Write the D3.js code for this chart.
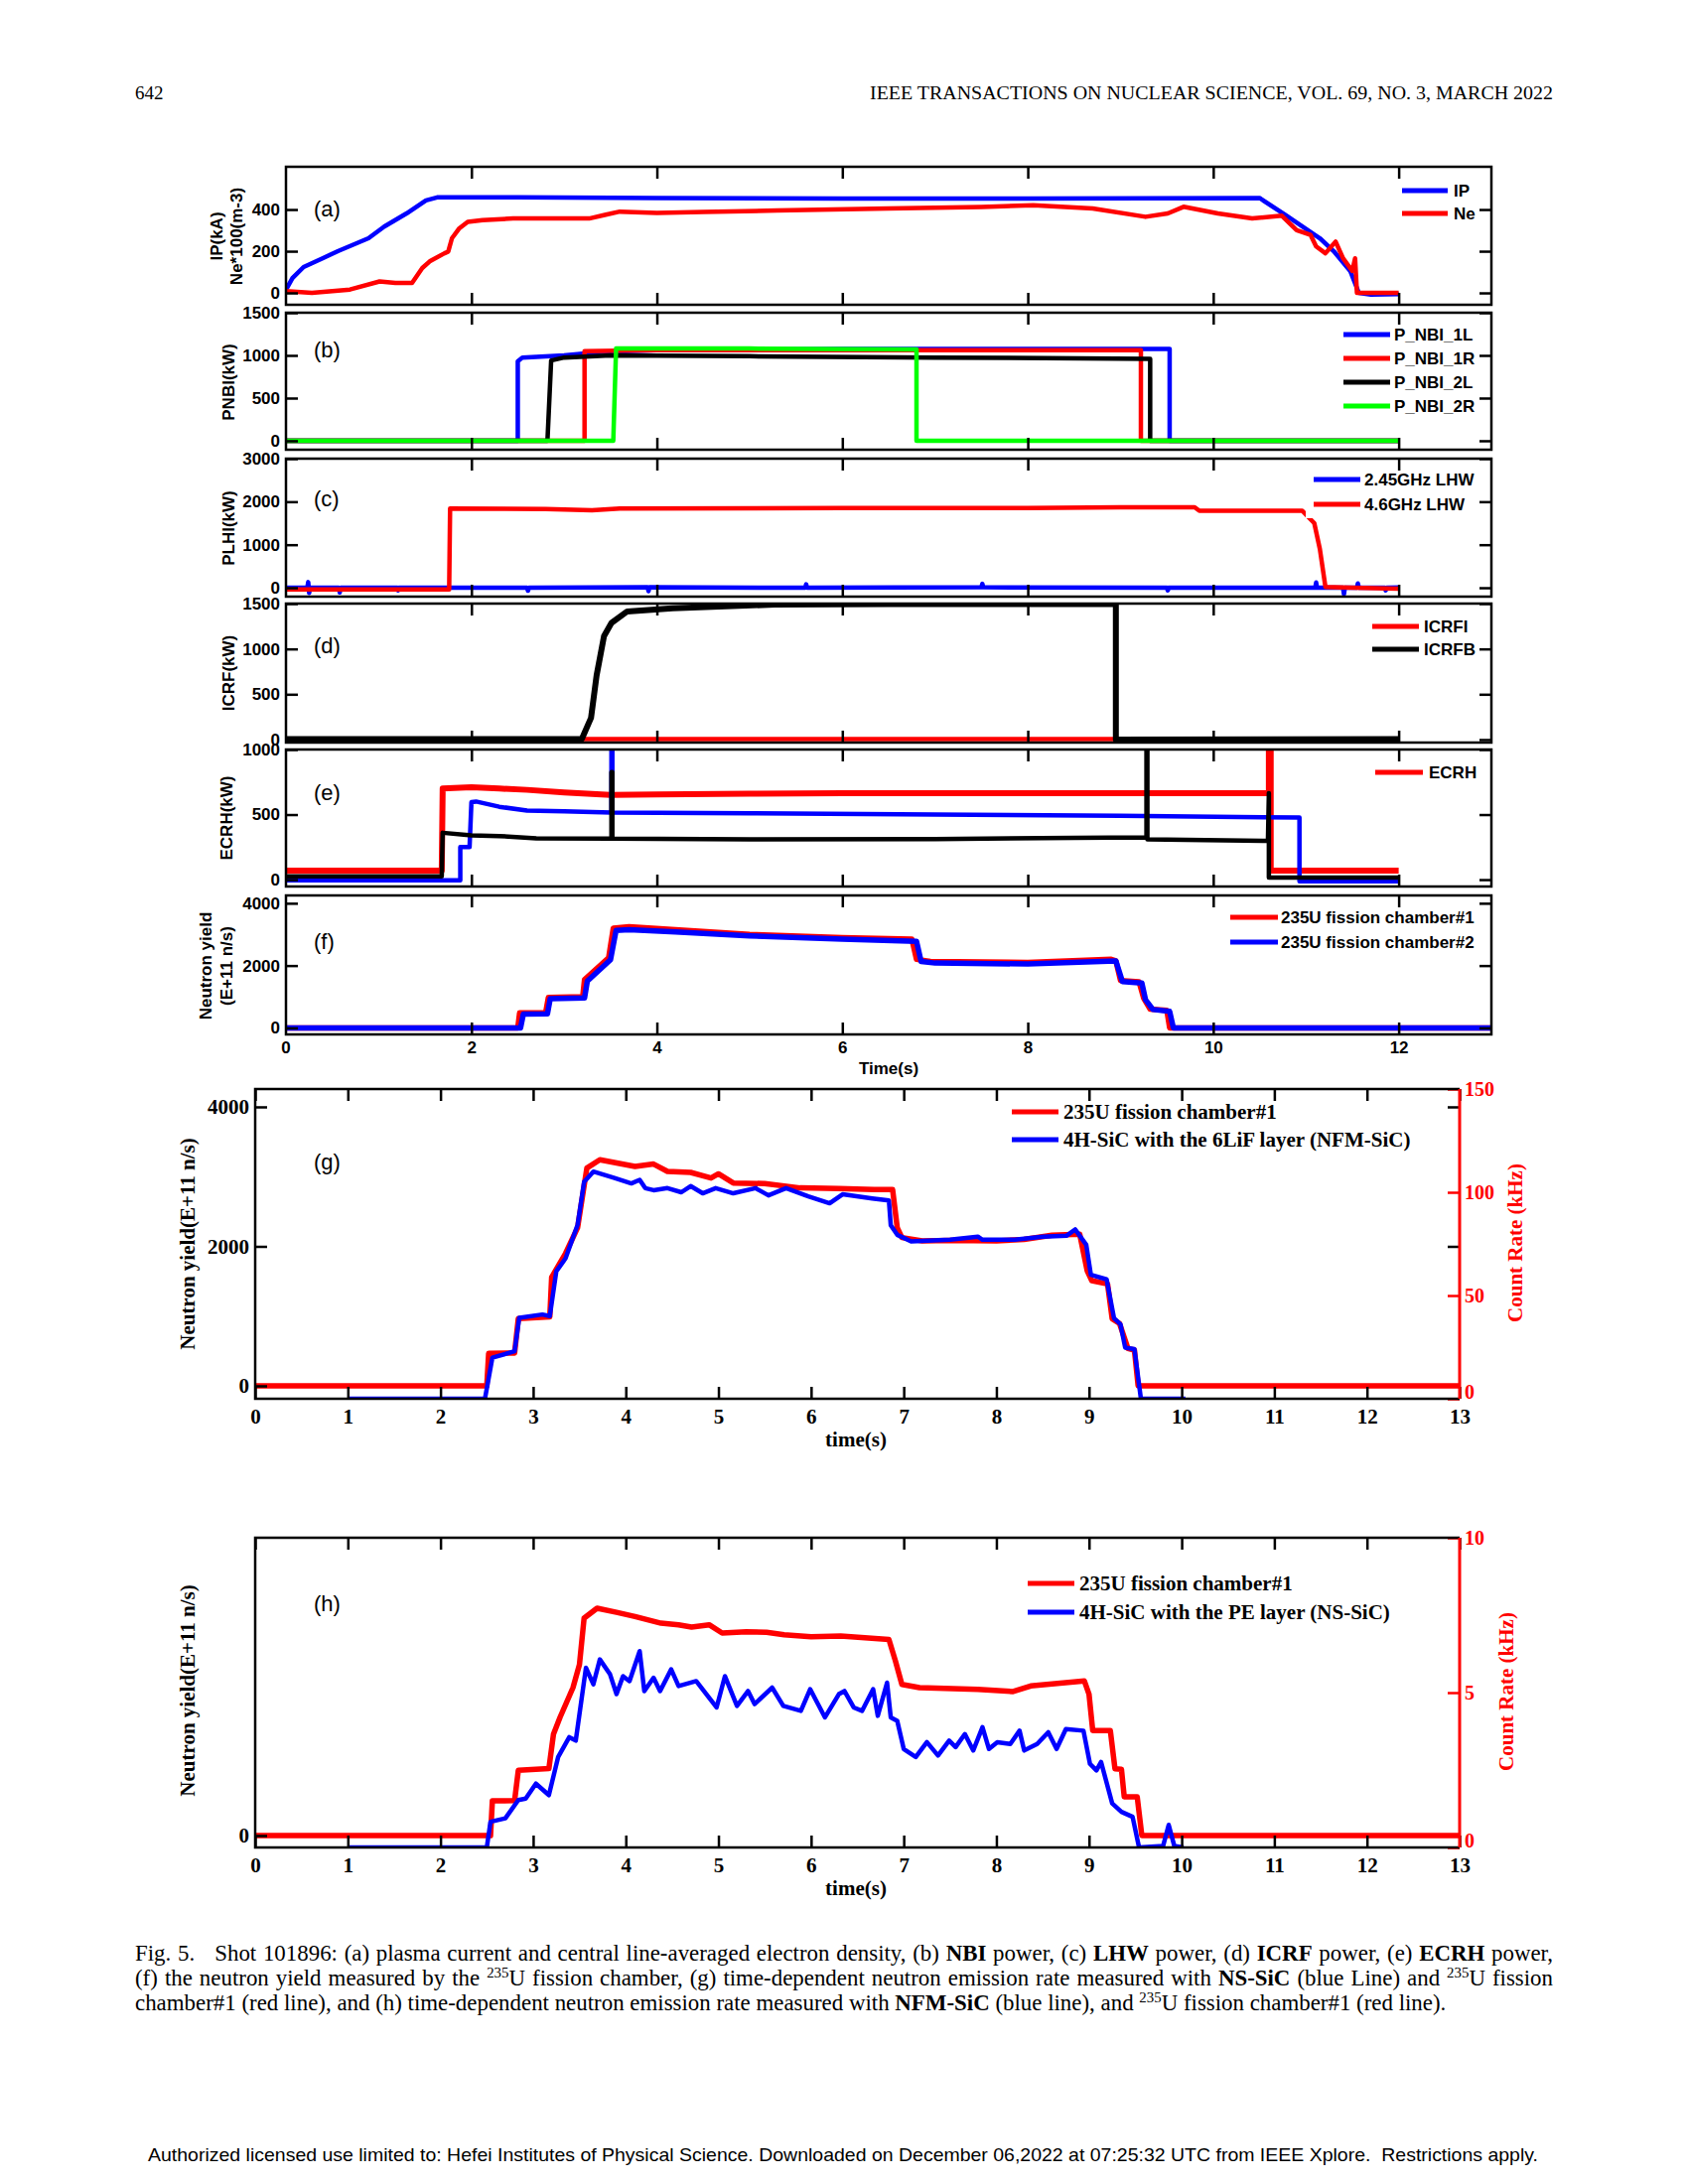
<!DOCTYPE html>
<html><head><meta charset="utf-8">
<script src="https://cdn.jsdelivr.net/npm/d3@7"></script>
<style>body{margin:0;background:#fff}</style>
</head><body>
<svg id="c" width="1700" height="2200" xmlns="http://www.w3.org/2000/svg"></svg>
<script>
// ---------------- DATA (time s, value) ----------------
const ipData = [[0,15],[0.07,71],[0.19,124],[0.4,167],[0.56,200],[0.89,262],[1.06,318],[1.3,381],[1.51,444],[1.63,458],[2.5,458],[4,455],[6,453],[8,453],[10.5,455],[10.78,373],[11.15,262],[11.3,200],[11.48,103],[11.57,0],[11.7,-8],[12,-6]];
const neData = [[0,8],[0.28,0],[0.69,16],[1.01,55],[1.18,48],[1.36,48],[1.47,119],[1.55,151],[1.71,190],[1.75,198],[1.79,262],[1.87,310],[1.96,341],[2.12,349],[2.45,357],[3.27,357],[3.45,375],[3.6,390],[4,384],[4.5,388],[5.3,395],[6.5,405],[7.5,412],[8.06,421],[8.7,405],[9.27,365],[9.51,381],[9.68,413],[10.05,381],[10.42,357],[10.74,370],[10.9,301],[11.05,278],[11.11,223],[11.21,190],[11.32,246],[11.4,166],[11.5,105],[11.53,166],[11.55,0],[12,0]];

const nbi1L = [[0,0],[2.5,0],[2.5,930],[2.55,975],[3.0,1000],[3.4,1040],[4,1060],[6,1075],[8,1075],[9.53,1075],[9.53,0],[12,0]];
const nbi1R = [[0,0],[3.22,0],[3.22,1050],[4,1060],[6,1062],[9.22,1062],[9.22,0],[12,0]];
const nbi2L = [[0,0],[2.82,0],[2.86,940],[3.0,975],[3.5,1000],[5,990],[7,975],[9.32,960],[9.32,0],[12,0]];
const nbi2R = [[0,0],[3.53,0],[3.56,1080],[5,1080],[6.8,1070],[6.8,0],[12,0]];

const lhw245 = [[0,0],[0.23,0],[0.24,130],[0.25,-120],[0.26,0],[0.57,0],[0.58,-110],[0.59,0],[1.2,0],[1.21,-60],[1.22,0],[1.76,0],[2.6,0],[2.61,-70],[2.62,0],[3.9,10],[3.91,-80],[3.92,10],[5.6,0],[5.61,80],[5.62,0],[7.5,10],[7.51,90],[7.52,10],[9.5,0],[9.51,-60],[9.52,0],[11.1,0],[11.11,120],[11.12,0],[11.4,0],[11.41,-150],[11.42,0],[11.55,0],[11.56,100],[11.57,0],[11.85,0],[11.86,-60],[11.87,0],[12,5]];
const lhw46 = [[0,-40],[1.76,-40],[1.77,1840],[2.8,1830],[3.3,1800],[3.6,1840],[6,1850],[8,1850],[9,1870],[9.8,1870],[9.85,1790],[10.96,1790],[11.09,1500],[11.15,900],[11.21,20],[11.5,0],[12,-20]];

const icrfi = [[0,5],[12,5]];
const icrfb = [[0,5],[3.19,5],[3.29,239],[3.35,707],[3.43,1141],[3.51,1286],[3.68,1413],[4.17,1449],[5.27,1489],[6.5,1495],[8.95,1495],[8.95,0],[12,5]];

const ecrhRed = [[0,70],[1.68,70],[1.69,700],[2,710],[2.3,700],[2.6,690],[3,670],[3.5,650],[4,655],[5,660],[6,665],[8,665],[10.6,665],[10.6,1100],[10.62,1100],[10.62,70],[12,70]];
const ecrhBlue = [[0,-5],[1.88,-5],[1.88,250],[1.98,250],[2.0,595],[2.05,600],[2.3,560],[2.6,530],[3.0,525],[3.51,515],[3.51,1100],[3.52,1100],[3.52,515],[5,510],[7,500],[9,490],[10.93,477],[10.93,-13],[12,-13]];
const ecrhBlack = [[0,25],[1.68,25],[1.69,360],[2.0,340],[2.3,335],[2.7,318],[3.51,315],[3.51,826],[3.52,826],[3.52,315],[5,310],[7,312],[8.5,320],[9.28,325],[9.28,1100],[9.29,1100],[9.29,310],[10.59,298],[10.6,665],[10.6,15],[12,15]];

const fc1 = [[0,0],[2.5,0],[2.52,480],[2.8,480],[2.83,980],[3.2,1000],[3.22,1550],[3.48,2250],[3.53,3200],[3.7,3250],[4.2,3150],[5,3000],[6,2900],[6.75,2850],[6.8,2200],[6.95,2130],[8,2100],[8.9,2200],[8.95,2150],[9.0,1520],[9.2,1480],[9.25,950],[9.32,600],[9.5,560],[9.53,0],[13,0]];
const fc2 = [[0,0],[2.53,0],[2.56,440],[2.82,450],[2.85,940],[3.22,960],[3.25,1500],[3.5,2190],[3.56,3130],[3.7,3150],[4.2,3080],[5,2950],[6,2850],[6.8,2780],[6.85,2130],[7,2080],[8,2050],[8.95,2150],[9.02,1490],[9.23,1440],[9.27,900],[9.35,590],[9.53,530],[9.57,0],[13,0]];

const gFc1 = [[0,0],[2.5,0],[2.52,465],[2.8,470],[2.84,963],[3.18,990],[3.2,1556],[3.35,1900],[3.48,2268],[3.58,3122],[3.72,3241],[4.1,3146],[4.3,3180],[4.45,3075],[4.7,3060],[4.92,2980],[5.0,3040],[5.16,2909],[5.5,2900],[5.88,2838],[6.3,2830],[6.68,2814],[6.88,2814],[6.93,2268],[6.98,2126],[7.2,2078],[7.5,2085],[8.0,2078],[8.3,2100],[8.6,2160],[8.9,2173],[8.98,1651],[9.03,1508],[9.2,1461],[9.25,963],[9.33,892],[9.42,536],[9.49,512],[9.53,0],[13,0]];
const gSic = [[1,0],[2.48,0],[2.56,19.9],[2.8,23],[2.85,39.2],[3.1,40.8],[3.18,40],[3.25,61.7],[3.35,68],[3.48,84.3],[3.55,105],[3.65,110],[3.87,107],[4.06,104.3],[4.15,106],[4.21,102],[4.3,101],[4.45,102],[4.6,100],[4.7,103],[4.83,99.5],[4.97,102],[5.16,99.5],[5.4,102],[5.54,98.5],[5.73,102],[5.97,98],[6.2,94.7],[6.34,99],[6.66,97],[6.84,96],[6.86,84],[6.93,79.4],[7.08,76.2],[7.5,77],[7.8,78.5],[7.85,77],[8.2,77],[8.5,78.5],[8.76,79],[8.85,82],[8.97,74.6],[9.02,60],[9.19,57.8],[9.27,39],[9.34,36],[9.39,24.8],[9.49,24],[9.56,0],[10.04,0]];

const hFc1 = [[0,0],[2.54,0],[2.56,498],[2.8,500],[2.84,935],[3.17,960],[3.22,1456],[3.29,1694],[3.43,2121],[3.5,2453],[3.55,3117],[3.69,3260],[3.9,3200],[4.1,3140],[4.38,3045],[4.57,3022],[4.71,2990],[4.9,3022],[5.04,2904],[5.3,2920],[5.52,2915],[5.71,2880],[6.0,2850],[6.32,2860],[6.84,2810],[6.91,2505],[6.98,2168],[7.17,2121],[7.8,2097],[8.18,2064],[8.37,2145],[8.95,2216],[9.0,2026],[9.04,1505],[9.23,1505],[9.28,958],[9.35,950],[9.38,555],[9.52,555],[9.57,0],[13,0]];
const hSic = [[1,0],[2.5,0],[2.54,0.83],[2.7,0.94],[2.84,1.53],[2.92,1.58],[3.03,2.06],[3.17,1.69],[3.27,2.92],[3.39,3.56],[3.46,3.45],[3.57,5.8],[3.65,5.27],[3.72,6.07],[3.83,5.59],[3.9,4.95],[3.97,5.53],[4.04,5.37],[4.15,6.34],[4.2,5.05],[4.3,5.48],[4.37,5.05],[4.49,5.75],[4.57,5.21],[4.76,5.37],[4.98,4.52],[5.07,5.53],[5.2,4.57],[5.32,5.05],[5.39,4.63],[5.58,5.16],[5.7,4.57],[5.89,4.41],[5.99,5.11],[6.15,4.2],[6.3,4.95],[6.36,5.05],[6.46,4.52],[6.55,4.41],[6.67,5.11],[6.72,4.25],[6.82,5.32],[6.86,4.2],[6.93,4.09],[7.0,3.18],[7.13,2.92],[7.25,3.4],[7.37,2.97],[7.49,3.45],[7.56,3.24],[7.66,3.66],[7.75,3.13],[7.85,3.88],[7.92,3.18],[8.01,3.4],[8.15,3.34],[8.25,3.77],[8.3,3.13],[8.44,3.34],[8.56,3.72],[8.65,3.18],[8.75,3.82],[8.94,3.77],[9.01,2.7],[9.08,2.49],[9.13,2.76],[9.25,1.42],[9.35,1.15],[9.47,0.99],[9.54,0],[9.8,0.05],[9.86,0.73],[9.92,0.05],[10.02,0]];

// tick values
const ticksA = [0,200,400];
const ticksB = [0,500,1000,1500];
const ticksC = [0,1000,2000,3000];
const ticksD = [0,500,1000,1500];
const ticksE = [0,500,1000];
const ticksF = [0,2000,4000];
const ticksTopX = [2,4,6,8,10,12];
const ticksBotX = [0,1,2,3,4,5,6,7,8,9,10,11,12,13];
const ticksGLeft = [0,2000,4000];
const ticksGRight = [0,50,100,150];
const ticksHLeft = [0];
const ticksHRight = [0,5,10];

// legend labels
const legA = ["IP","Ne"];
const legB = ["P_NBI_1L","P_NBI_1R","P_NBI_2L","P_NBI_2R"];
const legC = ["2.45GHz LHW","4.6GHz LHW"];
const legD = ["ICRFI","ICRFB"];
const legE = ["ECRH"];
const legF = ["235U fission chamber#1","235U fission chamber#2"];
const legG = ["235U fission chamber#1","4H-SiC with the 6LiF layer (NFM-SiC)"];
const legH = ["235U fission chamber#1","4H-SiC with the PE layer (NS-SiC)"];

// ---------------- DRAW ----------------
const svg = d3.select('#c');
const SANS = "'Liberation Sans', Arial, sans-serif";
const SERIF = "'Liberation Serif', 'Times New Roman', serif";
const RED = '#ff0000', BLUE = '#0000ff', GREEN = '#00ff00', BLACK = '#000000';
const fmt = d3.format('d');

const xTop = d3.scaleLinear([0,13],[288,1502]);
const xBot = d3.scaleLinear([0,13],[257,1470]);

const panels = [
 {key:'a', top:168, bottom:307, domain:[-57,605], ticks:ticksA, letter:'(a)', letterY:210,
  ylabel:['IP(kA)','Ne*100(m-3)'], ylabelX:[218,238], ylabelY:238,
  series:[{d:ipData,c:BLUE,w:4.5},{d:neData,c:RED,w:4.5}],
  leg:{names:legA, colors:[BLUE,RED], x1:1412, x2:1458, tx:1464, y0:192, dy:23}},
 {key:'b', top:315, bottom:453, domain:[-105,1500], ticks:ticksB, letter:'(b)', letterY:352,
  ylabel:['PNBI(kW)'], ylabelX:[230], ylabelY:385,
  series:[{d:nbi1L,c:BLUE,w:4.5},{d:nbi1R,c:RED,w:4.5},{d:nbi2L,c:BLACK,w:4.5},{d:nbi2R,c:GREEN,w:4.5}],
  leg:{names:legB, colors:[BLUE,RED,BLACK,GREEN], x1:1353, x2:1400, tx:1404, y0:337, dy:24}},
 {key:'c', top:462, bottom:601, domain:[-207,3000], ticks:ticksC, letter:'(c)', letterY:502,
  ylabel:['PLHI(kW)'], ylabelX:[230], ylabelY:532,
  series:[{d:lhw245,c:BLUE,w:4.5},{d:lhw46,c:RED,w:4.5}],
  leg:{names:legC, colors:[BLUE,RED], x1:1323, x2:1370, tx:1374, y0:483, dy:25}},
 {key:'d', top:608, bottom:748, domain:[-33,1500], ticks:ticksD, letter:'(d)', letterY:650,
  ylabel:['ICRF(kW)'], ylabelX:[230], ylabelY:678,
  series:[{d:icrfi,c:RED,w:4.5},{d:icrfb,c:BLACK,w:6}],
  leg:{names:legD, colors:[RED,BLACK], x1:1382, x2:1429, tx:1434, y0:631, dy:23}},
 {key:'e', top:755, bottom:893, domain:[-53,1000], ticks:ticksE, letter:'(e)', letterY:798,
  ylabel:['ECRH(kW)'], ylabelX:[228], ylabelY:824,
  series:[{d:ecrhRed,c:RED,w:6},{d:ecrhBlue,c:BLUE,w:4.5},{d:ecrhBlack,c:BLACK,w:4.5}],
  leg:{names:legE, colors:[RED], x1:1385, x2:1433, tx:1439, y0:778, dy:23}},
 {key:'f', top:902, bottom:1042, domain:[-210,4250], ticks:ticksF, letter:'(f)', letterY:948,
  ylabel:['Neutron yield','(E+11 n/s)'], ylabelX:[207,228], ylabelY:973,
  series:[{d:fc1,c:RED,w:5.5},{d:fc2,c:BLUE,w:5.5}],
  leg:{names:legF, colors:[RED,BLUE], x1:1239, x2:1287, tx:1290, y0:924, dy:25}, xlabels:true}
];

function styleTicks(sel, color, size, family, weight){
  sel.select('.domain').remove();
  sel.selectAll('.tick line').attr('stroke', color).attr('stroke-width', 2.5);
  sel.selectAll('.tick text').attr('fill', color).attr('font-size', size)
     .attr('font-family', family).attr('font-weight', weight);
}

function drawLines(g, x, y, series, clipId){
  const plot = g.append('g').attr('clip-path', `url(#${clipId})`);
  series.forEach(s => {
    const yy = s.y || y;
    plot.append('path').datum(s.d)
      .attr('d', d3.line().x(d => x(d[0])).y(d => yy(d[1])))
      .attr('fill','none').attr('stroke', s.c).attr('stroke-width', s.w)
      .attr('stroke-linejoin','round');
  });
}

function drawLegend(g, L, right, fontFam, fontSize){
  const n = L.names.length;
  g.append('rect').attr('x', L.x1 - 8).attr('y', L.y0 - 14)
    .attr('width', right - 3 - (L.x1 - 8)).attr('height', (n-1)*L.dy + 28).attr('fill','#fff');
  L.names.forEach((name,i) => {
    const yy = L.y0 + i*L.dy;
    g.append('line').attr('x1', L.x1).attr('x2', L.x2).attr('y1', yy).attr('y2', yy)
      .attr('stroke', L.colors[i]).attr('stroke-width', 5);
    g.append('text').attr('x', L.tx).attr('y', yy).attr('dominant-baseline','central')
      .attr('font-family', fontFam).attr('font-size', fontSize).attr('font-weight','bold')
      .text(name);
  });
}

const defs = svg.append('defs');

panels.forEach(p => {
  const x = xTop;
  const y = d3.scaleLinear(p.domain, [p.bottom, p.top]);
  const g = svg.append('g');
  const cid = 'clip' + p.key;
  defs.append('clipPath').attr('id', cid).append('rect')
    .attr('x', 288).attr('y', p.top).attr('width', 1502-288).attr('height', p.bottom - p.top);
  drawLines(g, x, y, p.series, cid);
  drawLegend(g, p.leg, 1502, SANS, 17);
  g.append('g').attr('transform', 'translate(288,0)')
    .call(d3.axisLeft(y).tickValues(p.ticks).tickSize(-12).tickPadding(6).tickFormat(fmt))
    .call(s => styleTicks(s, BLACK, 17, SANS, 'bold'));
  g.append('g').attr('transform', 'translate(1502,0)')
    .call(d3.axisRight(y).tickValues(p.ticks).tickSize(-12).tickFormat(() => ''))
    .call(s => styleTicks(s, BLACK, 17, SANS, 'bold'));
  g.append('g').attr('transform', `translate(0,${p.top})`)
    .call(d3.axisTop(x).tickValues(ticksTopX).tickSize(-12).tickFormat(() => ''))
    .call(s => styleTicks(s, BLACK, 17, SANS, 'bold'));
  const bAxis = d3.axisBottom(x).tickValues(ticksTopX).tickSize(-12).tickPadding(7).tickFormat(fmt);
  if (!p.xlabels) bAxis.tickFormat(() => '');
  g.append('g').attr('transform', `translate(0,${p.bottom})`).call(bAxis)
    .call(s => styleTicks(s, BLACK, 17, SANS, 'bold'));
  if (p.xlabels) {
    g.append('text').attr('x', xTop(0)).attr('y', p.bottom + 7).attr('dy','0.71em')
      .attr('text-anchor','middle').attr('font-family', SANS).attr('font-size',17).attr('font-weight','bold').text('0');
    g.append('text').attr('x', 895).attr('y', 1076).attr('text-anchor','middle').attr('dominant-baseline','central')
      .attr('font-family', SANS).attr('font-size',17).attr('font-weight','bold').text('Time(s)');
  }
  g.append('rect').attr('x',288).attr('y',p.top).attr('width',1502-288).attr('height',p.bottom-p.top)
    .attr('fill','none').attr('stroke',BLACK).attr('stroke-width',2.5);
  g.append('text').attr('x', 316).attr('y', p.letterY).attr('dominant-baseline','central')
    .attr('font-family', SANS).attr('font-size', 22).text(p.letter);
  p.ylabel.forEach((t,i) => {
    g.append('text').attr('transform', `translate(${p.ylabelX[i]},${p.ylabelY}) rotate(-90)`)
      .attr('text-anchor','middle').attr('dominant-baseline','central')
      .attr('font-family', SANS).attr('font-size', 17).attr('font-weight','bold').text(t);
  });
});

// ---- panels g and h ----
const lower = [
 {key:'g', top:1097, bottom:1409, domL:[-185,4256], domR:[0,150], tL:ticksGLeft, tR:ticksGRight, mirror:[2000,4000],
  letter:'(g)', letterY:1170, labelY:1253, rlabelX:1526, rlabelY:1252, timeY:1450,
  red:gFc1, blue:gSic, leg:{names:legG, colors:[RED,BLUE], x1:1019, x2:1066, tx:1071, y0:1120, dy:28}},
 {key:'h', top:1549, bottom:1861, domL:[-171,4270], domR:[0,10], tL:ticksHLeft, tR:ticksHRight, mirror:[],
  letter:'(h)', letterY:1615, labelY:1703, rlabelX:1517, rlabelY:1704, timeY:1902,
  red:hFc1, blue:hSic, leg:{names:legH, colors:[RED,BLUE], x1:1035, x2:1082, tx:1087, y0:1595, dy:29}}
];

lower.forEach(p => {
  const x = xBot;
  const yL = d3.scaleLinear(p.domL, [p.bottom, p.top]);
  const yR = d3.scaleLinear(p.domR, [p.bottom, p.top]);
  const g = svg.append('g');
  const cid = 'clip' + p.key;
  defs.append('clipPath').attr('id', cid).append('rect')
    .attr('x', 257).attr('y', p.top).attr('width', 1470-257).attr('height', p.bottom - p.top);
  drawLines(g, x, yL, [{d:p.red, c:RED, w:5.5, y:yL},{d:p.blue, c:BLUE, w:4.5, y:yR}], cid);
  drawLegend(g, p.leg, 1470, SERIF, 21);
  g.append('g').attr('transform','translate(257,0)')
    .call(d3.axisLeft(yL).tickValues(p.tL).tickSize(-12).tickPadding(6).tickFormat(fmt))
    .call(s => styleTicks(s, BLACK, 21, SERIF, 'bold'));
  g.append('g').attr('transform','translate(1470,0)')
    .call(d3.axisRight(yL).tickValues(p.mirror).tickSize(-12).tickFormat(() => ''))
    .call(s => styleTicks(s, BLACK, 21, SERIF, 'bold'));
  g.append('g').attr('transform','translate(1470,0)')
    .call(d3.axisRight(yR).tickValues(p.tR).tickSize(-12).tickPadding(5).tickFormat(fmt))
    .call(s => styleTicks(s, RED, 20, SERIF, 'bold'))
    .call(s => s.selectAll('.tick text').filter(d => d === 0).attr('dy', '-0.05em'));
  g.append('g').attr('transform',`translate(0,${p.top})`)
    .call(d3.axisTop(x).tickValues(ticksBotX).tickSize(-12).tickFormat(() => ''))
    .call(s => styleTicks(s, BLACK, 21, SERIF, 'bold'));
  g.append('g').attr('transform',`translate(0,${p.bottom})`)
    .call(d3.axisBottom(x).tickValues(ticksBotX).tickSize(-12).tickPadding(10).tickFormat(fmt))
    .call(s => styleTicks(s, BLACK, 21, SERIF, 'bold'));
  g.append('path').attr('d', `M1470,${p.top}H257V${p.bottom}H1470`).attr('fill','none')
    .attr('stroke',BLACK).attr('stroke-width',2.5);
  g.append('line').attr('x1',1470).attr('x2',1470).attr('y1',p.top).attr('y2',p.bottom)
    .attr('stroke',RED).attr('stroke-width',3);
  g.append('text').attr('x', 316).attr('y', p.letterY).attr('dominant-baseline','central')
    .attr('font-family', SANS).attr('font-size', 22).text(p.letter);
  g.append('text').attr('transform', `translate(189,${p.labelY}) rotate(-90)`)
    .attr('text-anchor','middle').attr('dominant-baseline','central')
    .attr('font-family', SERIF).attr('font-size', 21).attr('font-weight','bold').text('Neutron yield(E+11 n/s)');
  g.append('text').attr('transform', `translate(${p.rlabelX},${p.rlabelY}) rotate(-90)`)
    .attr('text-anchor','middle').attr('dominant-baseline','central').attr('fill', RED)
    .attr('font-family', SERIF).attr('font-size', 21).attr('font-weight','bold').text('Count Rate (kHz)');
  g.append('text').attr('x', 862).attr('y', p.timeY).attr('text-anchor','middle').attr('dominant-baseline','central')
    .attr('font-family', SERIF).attr('font-size', 21).attr('font-weight','bold').text('time(s)');
});

// ---- header ----
svg.append('text').attr('x',136).attr('y',100).attr('font-family',SERIF).attr('font-size',19).text('642');
svg.append('text').attr('x',876).attr('y',100).attr('font-family',SERIF).attr('font-size',19)
  .attr('textLength',688).attr('lengthAdjust','spacingAndGlyphs')
  .text('IEEE TRANSACTIONS ON NUCLEAR SCIENCE, VOL. 69, NO. 3, MARCH 2022');

// ---- caption ----
const captionLines = [
 [["Fig. 5.   Shot 101896: (a) plasma current and central line-averaged electron density, (b) ",""],["NBI","b"],[" power, (c) ",""],["LHW","b"],[" power, (d) ",""],["ICRF","b"],[" power, (e) ",""],["ECRH","b"],[" power,",""]],
 [["(f) the neutron yield measured by the ",""],["235","s"],["U fission chamber, (g) time-dependent neutron emission rate measured with ",""],["NS-SiC","b"],[" (blue Line) and ",""],["235","s"],["U fission",""]],
 [["chamber#1 (red line), and (h) time-dependent neutron emission rate measured with ",""],["NFM-SiC","b"],[" (blue line), and ",""],["235","s"],["U fission chamber#1 (red line).",""]]
];
const capY = [1975, 2000, 2025];
const capTargets = [1428, 1428, null];
const capNodes = captionLines.map((segs, i) => {
  const t = svg.append('text').attr('x',136).attr('y',capY[i]).attr('font-family',SERIF)
    .attr('font-size',20).style('white-space','pre');
  let prevSup = false;
  segs.forEach(([txt, st]) => {
    const ts = t.append('tspan').text(txt);
    if (st === 'b') ts.attr('font-weight','bold');
    if (st === 's') { ts.attr('class','sup').attr('font-size',13).attr('dy',-8); prevSup = true; }
    else { ts.attr('dy', prevSup ? 8 : 0); prevSup = false; }
  });
  return t;
});
const w3 = capNodes[2].node().getComputedTextLength();
const fs = 20 * (1457 - 136) / w3;
capNodes.forEach(t => { t.attr('font-size', fs); t.selectAll('tspan.sup').attr('font-size', fs*0.65); });
capNodes.forEach((t,i) => {
  if (!capTargets[i]) return;
  const w = t.node().getComputedTextLength();
  const txt = captionLines[i].map(s => s[0]).join('');
  const spaces = (txt.match(/ /g) || []).length;
  t.attr('word-spacing', (capTargets[i] - w) / spaces);
});

// ---- footer ----
svg.append('text').attr('x',149).attr('y',2177).attr('font-family',SANS).attr('font-size',19)
  .attr('textLength',1400).attr('lengthAdjust','spacingAndGlyphs').style('white-space','pre')
  .text('Authorized licensed use limited to: Hefei Institutes of Physical Science. Downloaded on December 06,2022 at 07:25:32 UTC from IEEE Xplore.  Restrictions apply.');
</script>
</body></html>
